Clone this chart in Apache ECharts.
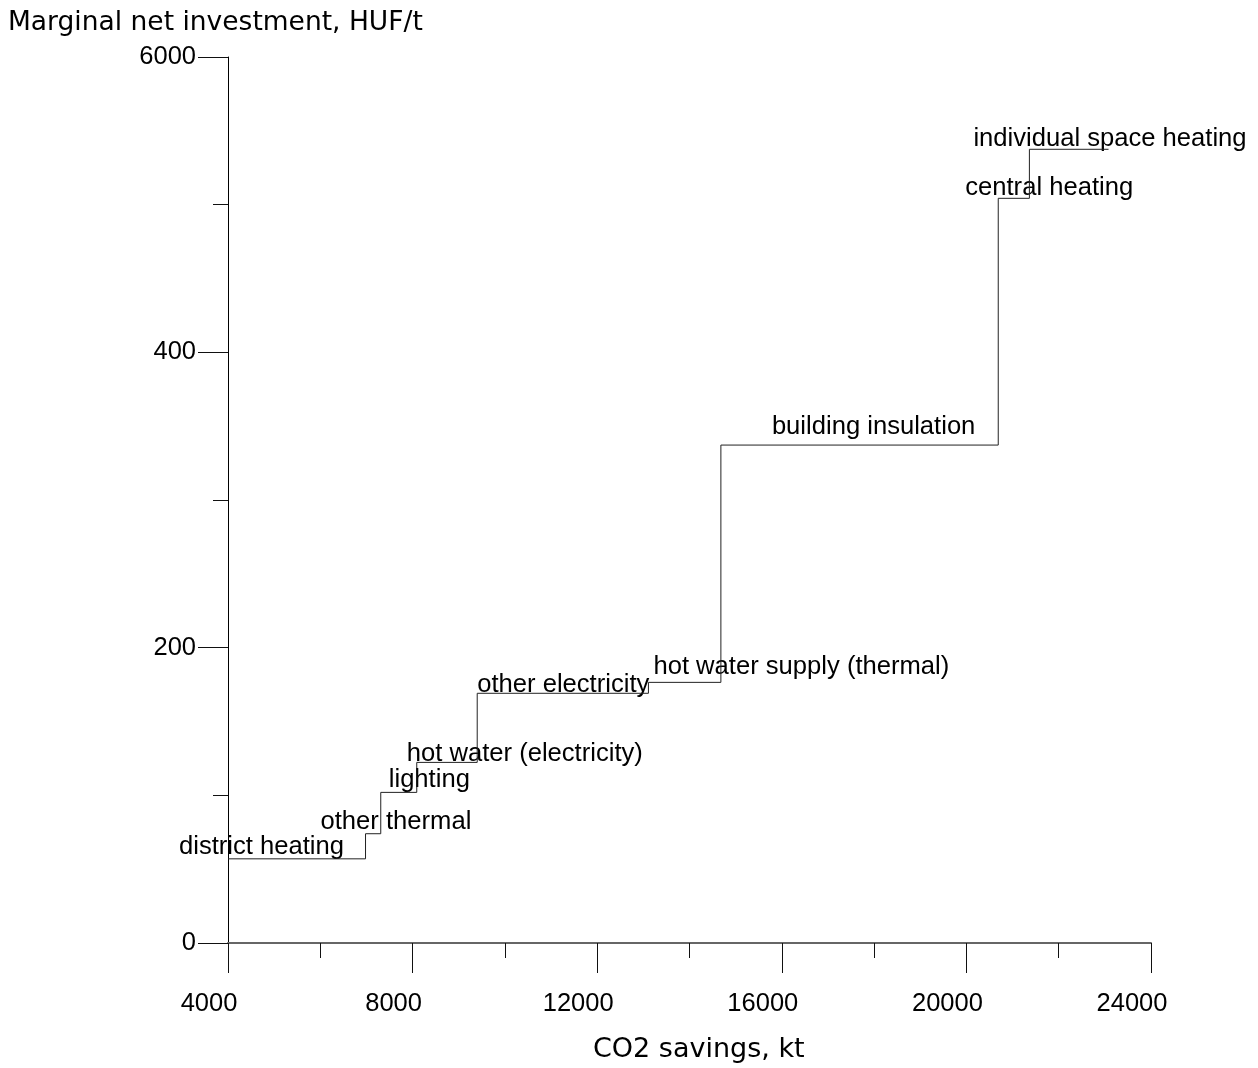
<!DOCTYPE html>
<html>
<head>
<meta charset="utf-8">
<script src="https://cdn.jsdelivr.net/npm/echarts@6/dist/echarts.min.js"></script>
<style>
html,body{margin:0;padding:0;background:#fff;}
#chart{width:1258px;height:1068px;}
</style>
</head>
<body>
<div id="chart"></div>
<script>
// ---- data ----
const categories = ['district heating','other thermal','lighting','hot water (electricity)','other electricity','hot water supply (thermal)','building insulation','central heating','individual space heating'];
const stepStart = 4000;                       // cumulative CO2 savings where the curve begins, kt
const stepEnds = [6980, 7310, 8090, 9400, 13110, 14680, 20690, 21365, 23080]; // cumulative CO2 savings, kt
const levels = [57, 74, 102, 122.3, 169.1, 176.5, 337.2, 504.3, 537.5];      // marginal net investment, HUF/t
const xTickValues = [4000, 8000, 12000, 16000, 20000, 24000];
const yTickValues = [0, 200, 400, 600];
const yTickLabels = ['0', '200', '400', '6000'];
const xAxisTitle = 'CO2 savings, kt';
const yAxisTitle = 'Marginal net investment, HUF/t';

// ---- styling (label pixel offsets relative to each step's start) ----
const labelOffsets = [[-49,-12],[-45,-12],[8,-12],[-10,-8],[0,-8],[5,-15],[51,-18],[-33,-10],[-56,-10]];

const starts = stepEnds.map((e, i) => i === 0 ? stepStart : stepEnds[i-1]);
const stepData = starts.map((s, i) => [s, levels[i]]);
stepData.push([stepEnds[stepEnds.length-1], levels[levels.length-1]]);

const labelData = categories.map((c, i) => ({
  value: [starts[i], levels[i]],
  name: c,
  label: { offset: [labelOffsets[i][0] - 0.5, labelOffsets[i][1]] }
}));

const FONT = "'Liberation Sans', Arial, sans-serif";
const TFONT = "'DejaVu Sans', sans-serif";
const chart = echarts.init(document.getElementById('chart'), null, {renderer: 'canvas'});
chart.setOption({
  animation: false,
  backgroundColor: '#fff',
  title: [
    { text: yAxisTitle, left: 8, top: 10, padding: 0,
      textStyle: { fontFamily: TFONT, fontSize: 26.5, fontWeight: 'normal', color: '#000' } },
    { text: xAxisTitle, left: 593, top: 1036, padding: 0,
      textStyle: { fontFamily: TFONT, fontSize: 27, fontWeight: 'normal', color: '#000' } }
  ],
  grid: { left: 228, top: 57, width: 923, height: 886, containLabel: false },
  xAxis: {
    type: 'value', min: xTickValues[0], max: xTickValues[xTickValues.length-1],
    interval: xTickValues[1] - xTickValues[0],
    splitLine: { show: false },
    axisLine: { show: true, lineStyle: { color: '#666', width: 2 } },
    axisTick: { show: true, length: 30, lineStyle: { color: '#111', width: 1 } },
    minorTick: { show: true, splitNumber: 2, length: 15, lineStyle: { color: '#111', width: 1 } },
    axisLabel: { margin: 48, fontSize: 25.5, fontFamily: FONT, color: '#000',
      padding: [0, 38, 0, 0],
      formatter: v => String(v) }
  },
  yAxis: {
    type: 'value', min: yTickValues[0], max: yTickValues[yTickValues.length-1],
    interval: yTickValues[1] - yTickValues[0],
    splitLine: { show: false },
    axisLine: { show: true, lineStyle: { color: '#000', width: 1 } },
    axisTick: { show: true, length: 30, lineStyle: { color: '#111', width: 1 } },
    minorTick: { show: true, splitNumber: 2, length: 15, lineStyle: { color: '#111', width: 1 } },
    axisLabel: { margin: 32, fontSize: 25.5, fontFamily: FONT, color: '#000',
      formatter: v => { const k = yTickValues.indexOf(v); return k >= 0 ? yTickLabels[k] : ''; } }
  },
  series: [
    {
      type: 'line', step: 'end', data: stepData, symbol: 'none',
      lineStyle: { color: '#222', width: 1 }, silent: true, clip: false
    },
    {
      type: 'scatter', data: labelData, symbolSize: 1,
      itemStyle: { color: 'rgba(255,255,255,0)', opacity: 1 }, silent: true, clip: false,
      label: { show: true, position: 'right', distance: 0, align: 'left', verticalAlign: 'middle',
        formatter: p => p.name, fontSize: 25.6, fontFamily: FONT, color: '#000', opacity: 1,
        textBorderWidth: 0 }
    }
  ]
});
</script>
</body>
</html>
